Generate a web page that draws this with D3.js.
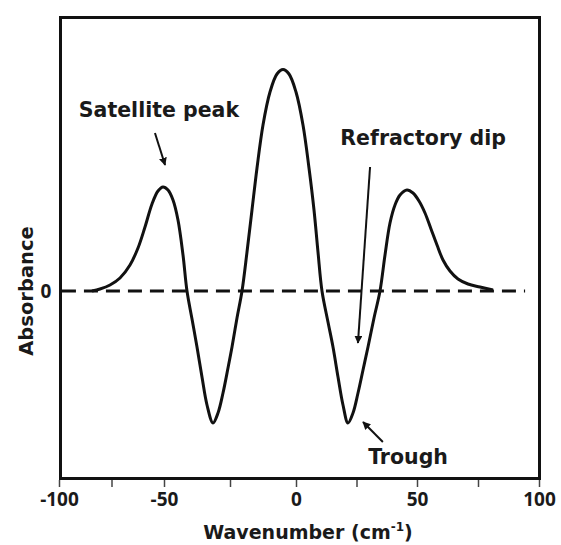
<!DOCTYPE html>
<html><head><meta charset="utf-8">
<script src="https://cdn.jsdelivr.net/npm/d3@7"></script>
<style>
html,body{margin:0;padding:0;background:#fff;}
svg{display:block;}
text{font-family:"DejaVu Sans",sans-serif;font-weight:700;fill:#1a1a1a;}
</style></head>
<body>
<script>
// ---- data (wavenumber cm^-1, absorbance arbitrary units) ----
const wavenumber = [-84.29,-80.48,-75.71,-70.95,-66.19,-62.38,-59.05,-55.71,-52.86,-50.48,-48.48,-46.59,-44.70,-42.80,-41.29,
  -39.39,-37.50,-35.61,-33.71,-31.44,-29.55,-27.65,-25.76,-24.24,-22.35,-20.45,
  -18.56,-16.67,-14.77,-12.50,-9.85,-7.20,-4.92,-2.65,0,2.89,5.37,7.44,9.09,10.74,
  13.22,15.29,17.36,19.42,21.49,23.55,25.62,27.69,29.75,32.23,34.71,
  36.78,38.84,40.91,42.98,45.87,48.35,50.82,53.28,55.74,58.20,60.66,63.52,66.80,70.90,75.82,81.15];
const absorbance = [0,0.02,0.06,0.13,0.26,0.43,0.64,0.87,1.00,1.04,1.01,0.91,0.71,0.36,0,
  -0.28,-0.56,-0.86,-1.14,-1.32,-1.22,-1.02,-0.77,-0.56,-0.27,0,
  0.39,0.81,1.23,1.66,1.99,2.17,2.215,2.17,1.99,1.66,1.23,0.81,0.39,0,
  -0.31,-0.56,-0.86,-1.14,-1.32,-1.22,-1.02,-0.79,-0.56,-0.27,0,
  0.36,0.68,0.86,0.96,1.01,0.98,0.90,0.78,0.62,0.46,0.31,0.20,0.12,0.07,0.04,0.01];
const zeroLineX = [-98.6, 94.3];
const xTickLabels = [-100,-50,0,50,100];
const xMinorTicks = [-75,-25,25,75];
const yTickLabels = [0];
const annotationLabels = ["Satellite peak","Refractory dip","Trough"];
const annotationTextX = [-52.4, 52.5, 46.3];
const annotationTextY = [1.74, 1.46, -1.73];
const arrowFromX = [-54.3, 30.6, 35.9];
const arrowFromY = [1.58, 1.24, -1.51];
const arrowToX = [-49.6, 25.6, 27.7];
const arrowToY = [1.26, -0.52, -1.31];

const W = 561, H = 545;
const svg = d3.select("body").append("svg").attr("width", W).attr("height", H);

// hand-drawn axis: piecewise-linear scale through labelled ticks
const x = d3.scaleLinear().domain([-100,-50,0,50,100]).range([59,164,296,417,539]);
const y = d3.scaleLinear().domain([-1.89, 2.75]).range([480, 16]);

const ink = "#111";

svg.append("defs").append("marker")
  .attr("id","ah").attr("viewBox","0 0 10 10").attr("refX",9).attr("refY",5)
  .attr("markerWidth",4).attr("markerHeight",4).attr("orient","auto")
  .append("path").attr("d","M0,0 L10,5 L0,10 z").attr("fill",ink);

// frame
svg.append("rect").attr("x", x(-100)+1.5).attr("y", y(2.75)+1.5)
  .attr("width", x(100)-x(-100)-1).attr("height", y(-1.89)-y(2.75)-3)
  .attr("fill","none").attr("stroke",ink).attr("stroke-width",3);

// bottom axis ticks
const axis = d3.axisBottom(x).tickValues(xTickLabels.concat(xMinorTicks))
  .tickFormat(d => xTickLabels.includes(d) ? d : "").tickSize(7).tickPadding(6);
const gx = svg.append("g").attr("transform", `translate(0,${y(-1.89)})`).call(axis);
gx.select(".domain").remove();
gx.selectAll(".tick line").attr("stroke","#444").attr("stroke-width",1.5);
gx.selectAll(".tick text").style("font-size","19px").attr("fill","#1a1a1a")
  .style("font-family",'"Open Sans",sans-serif').style("font-weight","700");

// y tick label "0"
svg.selectAll(".ylab").data(yTickLabels).enter().append("text")
  .attr("x", 46).attr("y", d => y(d)).attr("dy","0.36em")
  .attr("text-anchor","middle").style("font-size","19px")
  .style("font-family",'"Open Sans",sans-serif').text(d => d);

// axis titles
const xt = svg.append("text").attr("x", 308).attr("y", 539).attr("text-anchor","middle")
  .style("font-size","19px");
xt.append("tspan").text("Wavenumber (cm");
xt.append("tspan").attr("dy",-8).style("font-size","12px").text("-1");
xt.append("tspan").attr("dy",8).text(")");

svg.append("text").attr("transform", `translate(33,${y(0)}) rotate(-90)`)
  .attr("text-anchor","middle").style("font-size","19.5px").text("Absorbance");

// dashed zero line
svg.append("line").attr("x1", x(zeroLineX[0])).attr("x2", x(zeroLineX[1]))
  .attr("y1", y(0)).attr("y2", y(0))
  .attr("stroke",ink).attr("stroke-width",3.2).attr("stroke-dasharray","14,8");

// spectrum
const pts = wavenumber.map((w,i)=>[w, absorbance[i]]);
svg.append("path").datum(pts)
  .attr("d", d3.line().x(d=>x(d[0])).y(d=>y(d[1])).curve(d3.curveCatmullRom.alpha(0.5)))
  .attr("fill","none").attr("stroke",ink).attr("stroke-width",3).attr("stroke-linejoin","round");

// annotations
annotationLabels.forEach((t,i)=>{
  svg.append("text").attr("x", x(annotationTextX[i])).attr("y", y(annotationTextY[i]))
    .attr("text-anchor","middle").style("font-size","20.5px").text(t);
  svg.append("line").attr("x1", x(arrowFromX[i])).attr("y1", y(arrowFromY[i]))
    .attr("x2", x(arrowToX[i])).attr("y2", y(arrowToY[i]))
    .attr("stroke",ink).attr("stroke-width",2).attr("marker-end","url(#ah)");
});
</script>
</body></html>
